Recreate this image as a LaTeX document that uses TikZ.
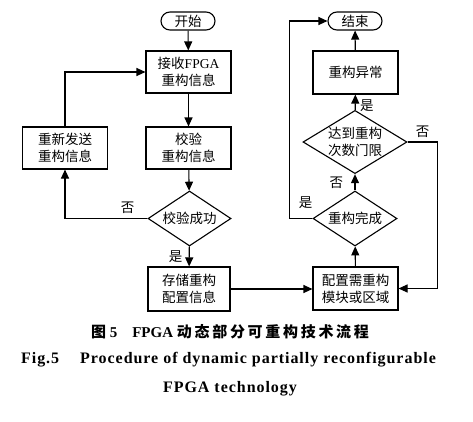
\documentclass[tikz,border=0pt]{standalone}
\usepackage{fontspec}
\setmainfont{Liberation Serif}
\newfontfamily\cjk{Noto Sans CJK SC}
\usetikzlibrary{arrows.meta, shapes.geometric}

\begin{document}
\begin{tikzpicture}[
    x=1pt, y=-1pt,
    box/.style={draw, line width=1.1pt, minimum width=85pt, minimum height=42pt,
                inner sep=0pt, align=center, font=\fontsize{13.5}{17}\selectfont\cjk},
    term/.style={draw, line width=1.1pt, rounded corners=9pt, minimum width=54pt,
                minimum height=18pt, inner sep=0pt, font=\fontsize{13.5}{17}\selectfont\cjk},
    test/.style={draw, line width=1.1pt, diamond, aspect=1.6, inner sep=0pt,
                align=center, font=\fontsize{13.5}{17}\selectfont\cjk},
    tag/.style={font=\fontsize{13.5}{17}\selectfont\cjk},
    flow/.style={line width=1.1pt, -{Triangle[length=9pt, width=8pt]}},
    captext/.style={font=\fontsize{15}{18}\selectfont\bfseries},
    capeng/.style={font=\fontsize{16}{19}\selectfont\bfseries\addfontfeature{LetterSpace=6}}
  ]
  \useasboundingbox (0,0) rectangle (473,421);

  % Left part: receive and check
  \node[term] (start) at (188, 21) {开始};
  \node[box] (recv) at (188.5, 72) {接收{\rmfamily FPGA}\\重构信息};
  \node[box] (check) at (188.5, 148) {校验\\重构信息};
  \node[box] (resend) at (65, 148) {重新发送\\重构信息};
  \node[test, minimum width=83pt, minimum height=55pt] (ok) at (189.5, 218.5) {校验成功};
  \node[box, minimum width=82pt, minimum height=44pt] (store) at (189, 289) {存储重构\\配置信息};

  \draw[flow] (start) -- (recv);
  \draw[flow] (recv) -- (check);
  \draw[flow] (check) -- (ok);
  \draw[flow] (ok) -- (store) node[tag, midway, left=3pt] (yes1) {是};
  \draw[flow] (ok.west) -| (resend.south) node[tag, pos=0.12, above=1pt] (no1) {否};
  \draw[flow] (resend.north) |- (recv.west);

  % Right part: configure and finish
  \node[term] (stop) at (355, 21) {结束};
  \node[box, minimum height=43pt] (fail) at (355.5, 72.5) {重构异常};
  \node[test, minimum width=104pt, minimum height=60pt] (limit) at (355, 142) {达到重构\\次数门限};
  \node[test, minimum width=84pt, minimum height=55pt] (done) at (355, 218.5) {重构完成};
  \node[box, minimum height=43pt] (config) at (355.5, 288.5) {配置需重构\\模块或区域};

  \draw[flow] (store.east) -- (store.east -| config.west);
  \draw[flow] (config) -- (done);
  \draw[flow] (done) -- (limit) node[tag, midway, left=8pt] (no2) {否};
  \draw[flow] (limit) -- (fail) node[tag, pos=0.3, right=1pt] (yes2) {是};
  \draw[flow] (fail) -- (stop);
  \draw[flow] (done.west) -- ++(-23,0) node[tag, pos=0.3, above=6pt] (yes3) {是} |- (stop.west);
  \draw[flow] (limit.east) -- ++(30,0) node[tag, midway, above=1pt] (no3) {否} |- (config.east);

  % Caption
  \node[captext] (capzh) at (230, 332)
    {{\cjk\addfontfeature{LetterSpace=18}图} 5\quad FPGA {\cjk\addfontfeature{LetterSpace=18}动态部分可重构技术流程}};
  \node[capeng] (capen1) at (228.5, 360) {Fig.5\quad\ Procedure of dynamic partially reconfigurable};
  \node[capeng] (capen2) at (230, 389) {FPGA technology};

\end{tikzpicture}
\end{document}
